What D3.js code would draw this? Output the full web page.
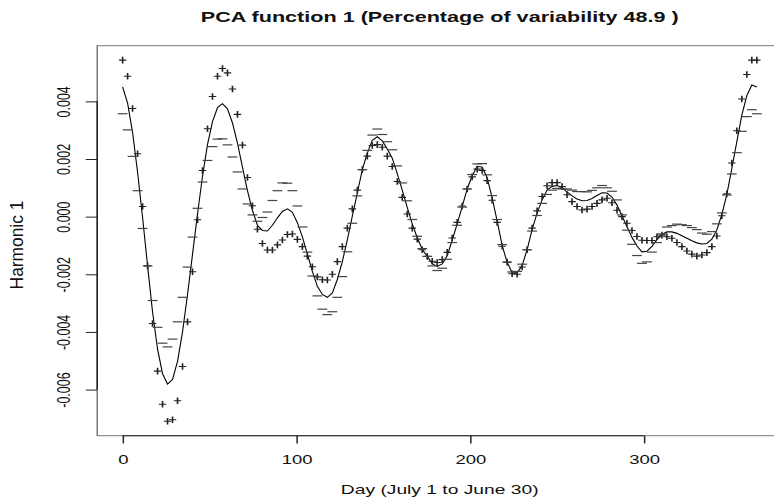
<!DOCTYPE html>
<html>
<head>
<meta charset="utf-8">
<script src="https://cdn.jsdelivr.net/npm/d3@7"></script>
<style>
  body { margin: 0; background: #fff; }
</style>
</head>
<body>
<div id="chart"></div>
<script>
// PCA harmonic plot, fda style: mean curve as a line, mean +/- harmonic as "+" and "-" marks

const nx = 128;               // evaluation grid, like seq(0, 365, length = 128)
const dayRange = [0, 365];
const unit = 1e-4;            // the two arrays below are in units of 1e-4

// mean function at each grid point
const meanCurve = [
  45, 39.4, 29.2, 15.4, -0.3, -17.1, -33.1, -46, -54.5, -58.1,
  -56.5, -50.2, -40, -27, -13.1, 0.9, 14, 25, 33, 37.8,
  39.2, 37.4, 32.5, 25.5, 17.2, 9, 2.2, -3, -4.8, -5,
  -3, -0.4, 1.8, 2.7, 1.5, -2.1, -7, -13, -19, -24.2,
  -27, -28, -26.5, -21.8, -15.6, -8.1, 0.2, 8.2, 16.3, 22,
  26.5, 27.7, 26.3, 23.5, 20.3, 14.9, 9.2, 3.2, -2.5, -7.3,
  -11.3, -13.8, -16.3, -17.3, -16.4, -13.6, -8.2, -2.5, 3.5, 9.6,
  14.2, 17.4, 17.2, 13.5, 6.5, -1.5, -10, -15.8, -19.5, -19.5,
  -17, -11.5, -4.5, 1.2, 5.8, 9.2, 10.5, 10.8, 10, 8.6,
  7.2, 6.1, 5.5, 5.6, 6.3, 7.3, 8.3, 8.2, 6.8, 4,
  0.3, -3.5, -7.2, -10.2, -12.2, -12, -10.3, -8, -6.2, -5.3,
  -5.3, -5.8, -6.6, -7.5, -8.4, -9.1, -9.5, -9.3, -7.8, -4.6,
  0.8, 7.7, 16.7, 26, 35.2, 42, 45.7, 45
];

// scaled harmonic: "+" = mean + harmonic, "-" = mean - harmonic
const harmonic = [
  9.3, 9.3, 8.3, 6.4, 3.8, 0, -4, -7.6, -10.6, -12.9,
  -14, -13.7, -12, -9.5, -6, -2, 2, 5.5, 8.7, 10.9,
  12.2, 12.5, 11.8, 10, 7.6, 4.6, 1.6, -1.4, -4.5, -6.6,
  -8.6, -9.4, -9.9, -8.9, -7.5, -5.8, -3.4, -0.7, 1.6, 3.3,
  5.1, 6, 6.5, 6.2, 5.2, 4.1, 2.5, 1, 0, -1,
  -1.8, -2.7, -2.2, -2.5, -2.9, -2.7, -2.5, -2.3, -1.5, -0.5,
  -0.2, 0, 0.8, 1.4, 1.5, 1.2, 0.8, 0.5, 0.2, 0,
  -0.4, -0.9, -1.2, -1, -0.8, -0.5, -0.3, 0, -0.3, -0.5,
  -0.5, 0, 0.5, 0.8, 1.2, 1.5, 1.3, 1, 0.4, -1,
  -2, -2.6, -3.2, -3, -2.8, -2.7, -2.5, -1.8, -2, -1.8,
  -0.3, 1.2, 2.4, 3.3, 4, 3.7, 2, 1, -0.2, -1.7,
  -2.2, -3.2, -3.8, -4.4, -4.6, -4.6, -3.8, -3.2, -2.6, -2.1,
  -0.5, 0.2, 1.9, 3.8, 5.6, 7.3, 8.6, 9.3
];

const xTicks = [0, 100, 200, 300];
const yTicks = [-0.006, -0.004, -0.002, 0, 0.002, 0.004];
const yTickLabels = ["-0.006", "-0.004", "-0.002", "0.000", "0.002", "0.004"];
const title = "PCA function 1 (Percentage of variability 48.9 )";
const xLabel = "Day (July 1 to June 30)";
const yLabel = "Harmonic 1";

const width = 774, height = 502;
const sx = 1.48; // the picture is stretched horizontally
const plot = { left: 65.7, right: 528.5, top: 45.7, bottom: 435.7 };
const font = "'Liberation Sans', Arial, Helvetica, sans-serif";

const days = d3.range(nx).map(i => dayRange[0] + i * (dayRange[1] - dayRange[0]) / (nx - 1));
const rows = days.map((d, i) => ({
    day: d,
    mean: meanCurve[i] * unit,
    plus: (meanCurve[i] + harmonic[i]) * unit,
    minus: (meanCurve[i] - harmonic[i]) * unit
}));

// R style 4% padding on both axes
const xr = dayRange[1] - dayRange[0];
const x = d3.scaleLinear()
    .domain([dayRange[0] - 0.04 * xr, dayRange[1] + 0.04 * xr])
    .range([plot.left, plot.right]);

const yLo = d3.min(rows, d => Math.min(d.plus, d.minus));
const yHi = d3.max(rows, d => Math.max(d.plus, d.minus));
const yr = yHi - yLo;
const y = d3.scaleLinear()
    .domain([yLo - 0.04 * yr, yHi + 0.04 * yr])
    .range([plot.bottom, plot.top]);

const svg = d3.select("#chart")
    .append("svg")
    .attr("width", width)
    .attr("height", height)
    .style("display", "block");

const g = svg.append("g").attr("transform", `scale(${sx},1)`);

// frame
g.append("rect")
    .attr("x", plot.left)
    .attr("y", plot.top)
    .attr("width", plot.right - plot.left)
    .attr("height", plot.bottom - plot.top)
    .attr("fill", "none")
    .attr("stroke", "#777")
    .attr("stroke-width", 1);

// x axis
const gx = g.append("g")
    .attr("transform", `translate(0,${plot.bottom})`)
    .call(d3.axisBottom(x).tickValues(xTicks).tickSize(7.7).tickFormat(d3.format("d")))
    .call(a => a.select(".domain").remove());
gx.append("line")
    .attr("x1", x(xTicks[0])).attr("x2", x(xTicks[xTicks.length - 1]))
    .attr("stroke", "#222");
gx.selectAll(".tick line").attr("stroke", "#222");
gx.selectAll(".tick text")
    .attr("y", 28.3)
    .attr("dy", 0)
    .attr("fill", "#111")
    .attr("font-family", font)
    .attr("font-size", 12.5);

// y axis, labels parallel to the axis
const gy = g.append("g")
    .attr("transform", `translate(${plot.left},0)`)
    .call(d3.axisLeft(y).tickValues(yTicks).tickSize(7.8).tickFormat((d, i) => yTickLabels[i]))
    .call(a => a.select(".domain").remove());
gy.append("line")
    .attr("y1", y(yTicks[0])).attr("y2", y(yTicks[yTicks.length - 1]))
    .attr("stroke", "#222");
gy.selectAll(".tick line").attr("stroke", "#222");
gy.selectAll(".tick text")
    .attr("x", 0)
    .attr("dy", 0)
    .attr("transform", "translate(-18.4,0) rotate(-90)")
    .attr("text-anchor", "middle")
    .attr("fill", "#111")
    .attr("font-family", font)
    .attr("font-size", 12.5);

// mean curve (thin, like the original 1px line)
g.append("path")
    .datum(rows)
    .attr("fill", "none")
    .attr("stroke", "#000")
    .attr("stroke-width", 1.1)
    .attr("vector-effect", "non-scaling-stroke")
    .attr("d", d3.line().x(d => x(d.day)).y(d => y(d.mean)));

// "+" marks
g.append("g")
    .selectAll("path")
    .data(rows)
    .join("path")
    .attr("transform", d => `translate(${x(d.day)},${y(d.plus)})`)
    .attr("d", "M-2.5,0H2.5M0,-3.3V3.3")
    .attr("stroke", "#222")
    .attr("stroke-width", 1.1)
    .attr("fill", "none");

// "-" marks
g.append("g")
    .selectAll("path")
    .data(rows)
    .join("path")
    .attr("transform", d => `translate(${x(d.day)},${y(d.minus)})`)
    .attr("d", "M-3.3,0H3.3")
    .attr("stroke", "#444")
    .attr("stroke-width", 1.2)
    .attr("fill", "none");

// titles
const cx = (plot.left + plot.right) / 2;
g.append("text")
    .attr("x", cx)
    .attr("y", 22)
    .attr("text-anchor", "middle")
    .attr("font-family", font)
    .attr("font-size", 14.6)
    .attr("font-weight", "bold")
    .attr("fill", "#111")
    .text(title);

g.append("text")
    .attr("x", cx)
    .attr("y", 494)
    .attr("text-anchor", "middle")
    .attr("font-family", font)
    .attr("font-size", 13)
    .attr("fill", "#111")
    .text(xLabel);

g.append("text")
    .attr("transform", `translate(15.8,245) rotate(-90) scale(1.39,1)`)
    .attr("text-anchor", "middle")
    .attr("font-family", font)
    .attr("font-size", 12.5)
    .attr("fill", "#111")
    .text(yLabel);
</script>
</body>
</html>
